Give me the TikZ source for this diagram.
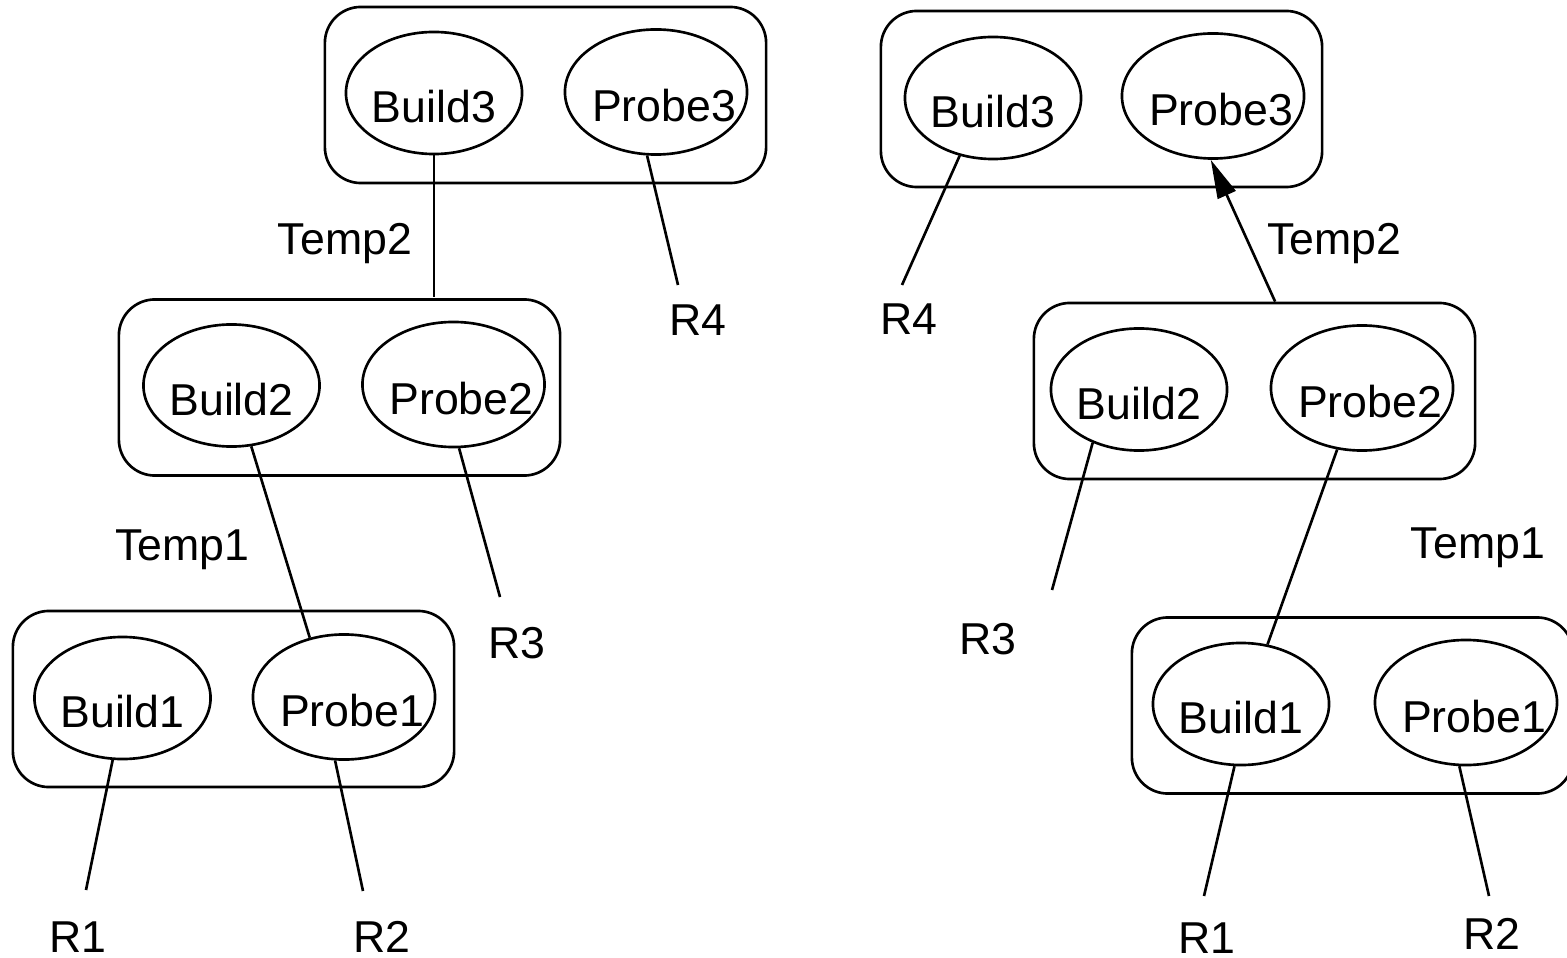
\documentclass[tikz,border=0pt]{standalone}
\usepackage{fontspec}
\setmainfont{Liberation Sans}
\usepackage{tikz}
\usetikzlibrary{shapes.geometric}
\usetikzlibrary{arrows.meta}
\tikzset{stage/.style={rectangle,draw,line width=0.75pt,rounded corners=0.36cm,
minimum width=4.41cm,minimum height=1.76cm,inner sep=0pt},
op/.style={ellipse,draw,line width=0.75pt,inner sep=0pt,
minimum width=1.76cm,minimum height=1.22cm},
optext/.style={inner sep=0pt,yshift=-0.14cm},
build/.style={op,label={[optext]center:#1}},
probe/.style={op,minimum width=1.82cm,minimum height=1.25cm,
label={[optext,xshift=0.08cm]center:#1}},
rel/.style={inner sep=0pt,anchor=base},
wire/.style={line width=0.75pt},
>={Triangle[length=11pt,width=5.5pt]}}

\begin{document}
\begin{tikzpicture}[x=0.01cm,y=-0.01cm,font=\fontsize{12.7}{15}\selectfont]
  \path [use as bounding box,clip] (0,0) rectangle (1567,958);
  \node (ls3) [stage] at (545.5,95) {};
  \node (lb3) [build=Build3] at (434,93) {};
  \node (lp3) [probe=Probe3] at (656,92) {};
  \node (ls2) [stage] at (339.5,387.5) {};
  \node (lb2) [build=Build2] at (231.5,385.5) {};
  \node (lp2) [probe=Probe2] at (453.5,384.5) {};
  \node (ls1) [stage] at (233.5,699) {};
  \node (lb1) [build=Build1] at (122.5,698) {};
  \node (lp1) [probe=Probe1] at (344,697) {};
  \node (lt2) [rel] at (345,255) {Temp2};
  \node (lt1) [rel] at (182.5,560) {Temp1};
  \node (lr4) [rel] at (698,336) {R4};
  \node (lr3) [rel] at (517,658) {R3};
  \node (lr1) [rel] at (78,952) {R1};
  \node (lr2) [rel] at (382,952) {R2};
  \coordinate (lt2end) at (434,297);
  \coordinate (lr4end) at (678,285);
  \coordinate (lr3end) at (500,597);
  \coordinate (lr1end) at (86,890);
  \coordinate (lr2end) at (363,891);
  \draw [wire] (lb3) -- (lt2end);
  \draw [wire] (lp3.262) -- (lr4end);
  \draw [wire] (lb2.288) -- (lp1.120);
  \draw [wire] (lp2.275) -- (lr3end);
  \draw [wire] (lb1.261) -- (lr1end);
  \draw [wire] (lp1.262) -- (lr2end);

  \node (rs3) [stage] at (1101.5,99) {};
  \node (rb3) [build=Build3] at (993,98) {};
  \node (rp3) [probe=Probe3] at (1213,96) {};
  \node (rs2) [stage] at (1254.5,391) {};
  \node (rb2) [build=Build2] at (1139,389.5) {};
  \node (rp2) [probe=Probe2] at (1362,388) {};
  \node (rs1) [stage] at (1352.5,705.5) {};
  \node (rb1) [build=Build1] at (1241,704) {};
  \node (rp1) [probe=Probe1] at (1466,702.5) {};
  \node (rr4) [rel] at (909,335) {R4};
  \node (rt2) [rel] at (1334.5,255) {Temp2};
  \node (rt1) [rel] at (1478,558) {Temp1};
  \node (rr3) [rel] at (988,654) {R3};
  \node (rr1) [rel] at (1207,953) {R1};
  \node (rr2) [rel] at (1492,949) {R2};
  \coordinate (rr4end) at (902,285);
  \coordinate (rr3end) at (1052,590);
  \coordinate (rr1end) at (1204,896);
  \coordinate (rr2end) at (1489,896);
  \draw [wire] (rb3.240) -- (rr4end);
  \draw [wire,->] (rs2.77) -- (rp3.268);
  \draw [wire] (rb2.229) -- (rr3end);
  \draw [wire] (rp2.248) -- (rb1.66);
  \draw [wire] (rb1.264) -- (rr1end);
  \draw [wire] (rp1.264) -- (rr2end);
\end{tikzpicture}
\end{document}
